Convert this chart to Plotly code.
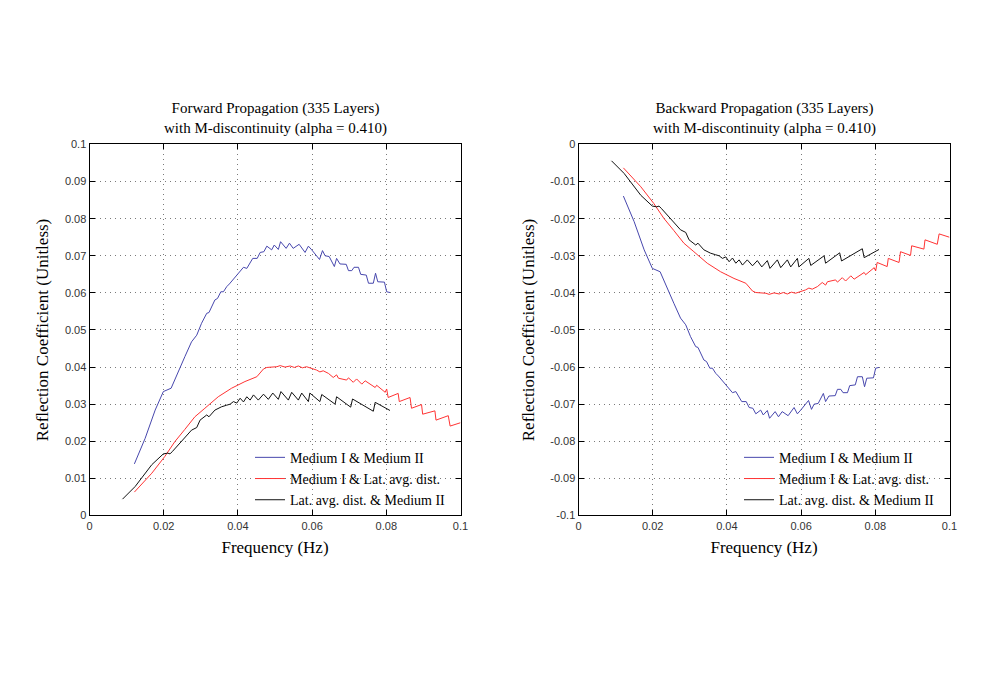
import plotly.graph_objects as go

# Data (forward propagation); backward panel is its mirror image
blue_x = [0.0121, 0.0150, 0.0177, 0.0199, 0.0220, 0.0235, 0.0257, 0.0275, 0.0289, 0.0302,
          0.0316, 0.0322, 0.0338, 0.0345, 0.0354, 0.0361, 0.0370, 0.0377, 0.0397, 0.0406,
          0.0415, 0.0424, 0.0440, 0.0452, 0.0460, 0.0470, 0.0478, 0.0491, 0.0498, 0.0509,
          0.0515, 0.0530, 0.0539, 0.0549, 0.0565, 0.0581, 0.0590, 0.0599, 0.0608, 0.0620,
          0.0628, 0.0635, 0.0646, 0.0660, 0.0666, 0.0675, 0.0692, 0.0698, 0.0707, 0.0713,
          0.0725, 0.0731, 0.0746, 0.0752, 0.0765, 0.0771, 0.0777, 0.0795, 0.0801, 0.0810]
blue_y = [0.0139, 0.0208, 0.0284, 0.0334, 0.0343, 0.0379, 0.0428, 0.0468, 0.0486, 0.0518,
          0.0545, 0.0547, 0.0581, 0.0585, 0.0603, 0.0603, 0.0617, 0.0624, 0.0648, 0.0657,
          0.0669, 0.0666, 0.0693, 0.0693, 0.0709, 0.0711, 0.0726, 0.0716, 0.0729, 0.0717,
          0.0738, 0.0720, 0.0734, 0.0720, 0.0731, 0.0709, 0.0726, 0.0716, 0.0705, 0.0690,
          0.0714, 0.0700, 0.0698, 0.0671, 0.0693, 0.0678, 0.0677, 0.0660, 0.0660, 0.0669,
          0.0669, 0.0650, 0.0648, 0.0626, 0.0626, 0.0653, 0.0630, 0.0629, 0.0603, 0.0601]

red_x = [0.0121, 0.0168, 0.0203, 0.0230, 0.0257, 0.0284, 0.0311, 0.0347, 0.0383, 0.0419,
         0.0451, 0.0469, 0.0478, 0.0505, 0.0514, 0.0527, 0.0541, 0.0552, 0.0563, 0.0574,
         0.0585, 0.0599, 0.0612, 0.0621, 0.0630, 0.0644, 0.0657, 0.0666, 0.0671, 0.0693,
         0.0698, 0.0711, 0.0720, 0.0734, 0.0743, 0.0770, 0.0774, 0.0797, 0.0801, 0.0805,
         0.0832, 0.0835, 0.0864, 0.0868, 0.0895, 0.0898, 0.0931, 0.0934, 0.0967, 0.0972,
         0.1000]
red_y = [0.0063, 0.0114, 0.0159, 0.0199, 0.0232, 0.0266, 0.0289, 0.0320, 0.0343, 0.0361,
         0.0374, 0.0395, 0.0399, 0.0401, 0.0404, 0.0400, 0.0403, 0.0399, 0.0403, 0.0398,
         0.0401, 0.0397, 0.0392, 0.0387, 0.0390, 0.0383, 0.0372, 0.0379, 0.0370, 0.0365,
         0.0371, 0.0359, 0.0368, 0.0354, 0.0363, 0.0345, 0.0351, 0.0332, 0.0341, 0.0318,
         0.0329, 0.0307, 0.0318, 0.0289, 0.0299, 0.0273, 0.0282, 0.0257, 0.0269, 0.0241,
         0.0250]

black_x = [0.0089, 0.0123, 0.0168, 0.0199, 0.0211, 0.0217, 0.0223, 0.0248, 0.0275, 0.0289,
           0.0298, 0.0316, 0.0322, 0.0338, 0.0356, 0.0369, 0.0379, 0.0388, 0.0397, 0.0406,
           0.0415, 0.0424, 0.0433, 0.0442, 0.0455, 0.0469, 0.0482, 0.0494, 0.0509, 0.0516,
           0.0536, 0.0545, 0.0563, 0.0572, 0.0590, 0.0594, 0.0621, 0.0626, 0.0662, 0.0666,
           0.0704, 0.0709, 0.0765, 0.0770, 0.0810]
black_y = [0.0044, 0.0078, 0.0137, 0.0166, 0.0168, 0.0166, 0.0172, 0.0199, 0.0230, 0.0237,
           0.0257, 0.0271, 0.0266, 0.0284, 0.0293, 0.0297, 0.0300, 0.0307, 0.0303, 0.0316,
           0.0306, 0.0320, 0.0311, 0.0325, 0.0311, 0.0327, 0.0313, 0.0330, 0.0313, 0.0334,
           0.0311, 0.0332, 0.0311, 0.0330, 0.0307, 0.0330, 0.0307, 0.0326, 0.0300, 0.0320,
           0.0292, 0.0314, 0.0281, 0.0305, 0.0283]

series_names = ["Medium I & Medium II", "Medium I & Lat. avg. dist.", "Lat. avg. dist. & Medium II"]
series_colors = ["#4747ad", "#ff3333", "#111111"]

titles = ["Forward Propagation (335 Layers)<br>with M-discontinuity (alpha = 0.410)",
          "Backward Propagation (335 Layers)<br>with M-discontinuity (alpha = 0.410)"]

x_ticks = [0, 0.02, 0.04, 0.06, 0.08, 0.1]
x_ticktext = ["0", "0.02", "0.04", "0.06", "0.08", "0.1"]
fwd_yticks = [0, 0.01, 0.02, 0.03, 0.04, 0.05, 0.06, 0.07, 0.08, 0.09, 0.1]
fwd_yticktext = ["0", "0.01", "0.02", "0.03", "0.04", "0.05", "0.06", "0.07", "0.08", "0.09", "0.1"]
bwd_yticks = [-0.1, -0.09, -0.08, -0.07, -0.06, -0.05, -0.04, -0.03, -0.02, -0.01, 0]
bwd_yticktext = ["-0.1", "-0.09", "-0.08", "-0.07", "-0.06", "-0.05", "-0.04", "-0.03", "-0.02", "-0.01", "0"]

fwd = [(blue_x, blue_y), (red_x, red_y), (black_x, black_y)]
bwd = [(xs, [-v for v in ys]) for xs, ys in fwd]

serif = "Liberation Serif"
sans = "Liberation Sans"

fig = go.Figure()
for (xs, ys), name, col in zip(fwd, series_names, series_colors):
    fig.add_trace(go.Scatter(x=xs, y=ys, mode="lines", name=name,
                             line=dict(color=col, width=1), xaxis="x", yaxis="y", legend="legend"))
for (xs, ys), name, col in zip(bwd, series_names, series_colors):
    fig.add_trace(go.Scatter(x=xs, y=ys, mode="lines", name=name,
                             line=dict(color=col, width=1), xaxis="x2", yaxis="y2", legend="legend2"))

axis_style = dict(showline=True, linecolor="black", linewidth=1, mirror="ticks",
                  ticks="inside", ticklen=5, tickcolor="black", automargin=False,
                  showgrid=True, gridcolor="#7a7a7a", griddash="1px,4px", gridwidth=1,
                  zeroline=False, tickfont=dict(family=sans, size=11, color="#333333"))
xtitle = dict(text="Frequency (Hz)", font=dict(family=serif, size=17, color="black"), standoff=10)
ytitle = dict(text="Reflection Coefficient (Unitless)", font=dict(family=serif, size=17, color="black"), standoff=11)

legend_style = dict(font=dict(family=serif, size=14, color="black"), bgcolor="rgba(0,0,0,0)",
                    xanchor="right", yanchor="bottom", tracegroupgap=0, itemwidth=30)

# page body adds an 8px offset, so domains are shifted to land where the reference frames are
fig.update_layout(
    width=1000, height=688,
    paper_bgcolor="white", plot_bgcolor="white",
    margin=dict(l=0, r=0, t=0, b=0),
    xaxis=dict(domain=[0.0815, 0.4525], range=[0, 0.1], tickvals=x_ticks, ticktext=x_ticktext,
               anchor="y", title=xtitle, **axis_style),
    yaxis=dict(domain=[0.2624, 0.8016], range=[0, 0.1], tickvals=fwd_yticks, ticktext=fwd_yticktext,
               anchor="x", title=ytitle, **axis_style),
    xaxis2=dict(domain=[0.5705, 0.9415], range=[0, 0.1], tickvals=x_ticks, ticktext=x_ticktext,
                anchor="y2", title=xtitle, **axis_style),
    yaxis2=dict(domain=[0.2624, 0.8016], range=[-0.1, 0], tickvals=bwd_yticks, ticktext=bwd_yticktext,
                anchor="x2", title=ytitle, **axis_style),
    legend=dict(x=0.443, y=0.262, **legend_style),
    legend2=dict(x=0.932, y=0.262, **legend_style),
    showlegend=True,
)

for xc, t in zip([0.267, 0.756], titles):
    fig.add_annotation(text=t, x=xc, y=0.810, xref="paper", yref="paper",
                       xanchor="center", yanchor="bottom", showarrow=False,
                       font=dict(family=serif, size=15, color="black"))

fig.write_html("out.html")
